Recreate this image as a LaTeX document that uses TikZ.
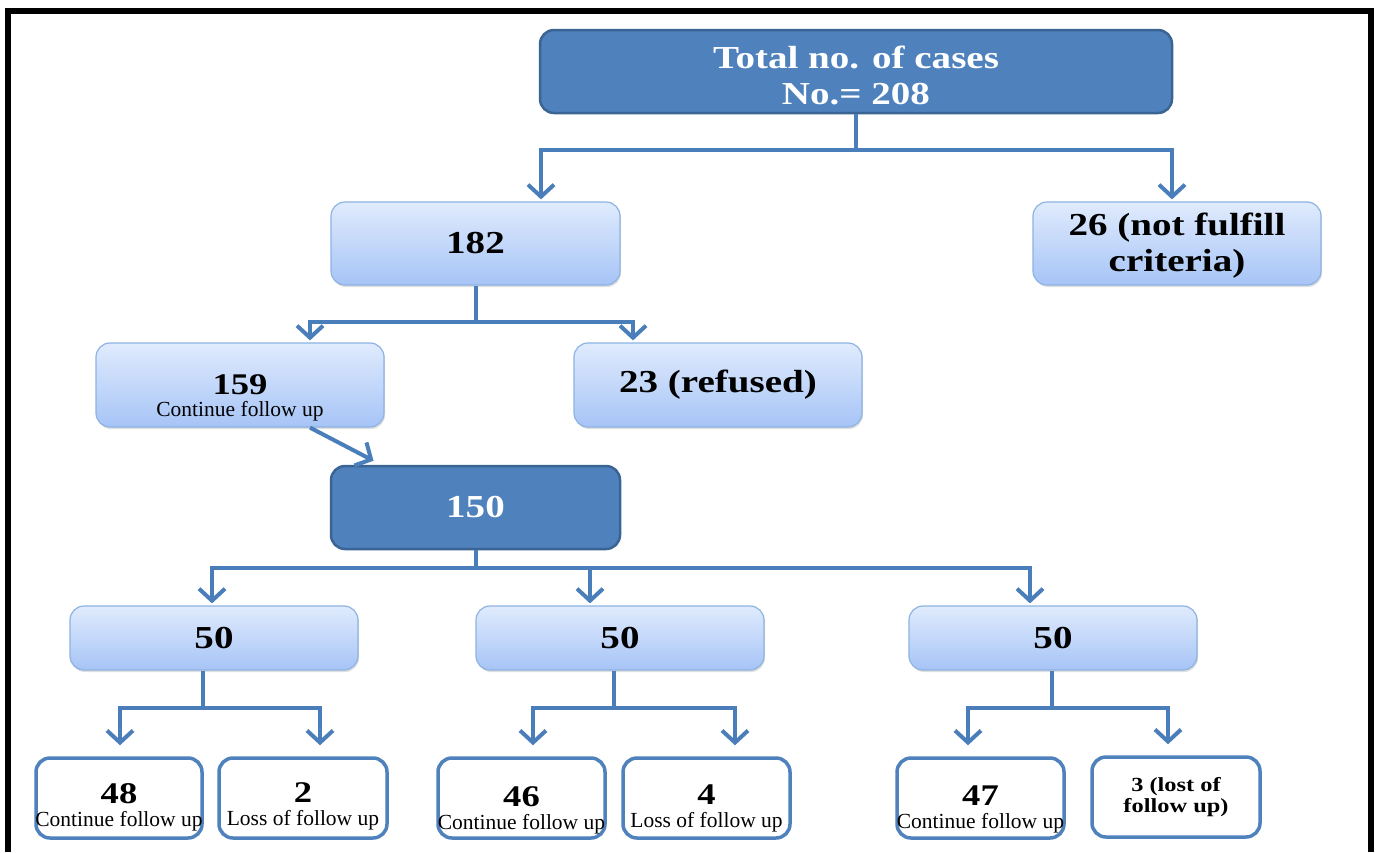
\documentclass[tikz,border=0pt]{standalone}
\usepackage{fontspec}
\setmainfont{Liberation Serif}
\newfontfamily\wbf{Liberation Serif}[FakeStretch=1.22]
\usetikzlibrary{arrows.meta,shadows}
\definecolor{lnblue}{HTML}{4A7EBB}
\definecolor{dkfill}{HTML}{4F81BD}
\definecolor{dkdraw}{HTML}{3A6494}
\definecolor{ltop}{HTML}{E0EBFD}
\definecolor{lbot}{HTML}{A6C4F6}
\definecolor{ldraw}{HTML}{8DB3E2}
\begin{document}
\begin{tikzpicture}[x=1pt,y=-1pt,
  ln/.style={draw=lnblue,line width=4pt},
  arr/.style={ln,-{Straight Barb[length=12pt,width=26pt]},shorten >=2pt},
  darkbox/.style={draw=dkdraw,line width=2.5pt,fill=dkfill,rounded corners=14pt,
    text=white,font=\wbf\bfseries\fontsize{32}{35}\selectfont,align=center,inner sep=0pt},
  lightbox/.style={draw=ldraw,line width=1.2pt,top color=ltop,bottom color=lbot,rounded corners=14pt,
    drop shadow={shadow xshift=1pt,shadow yshift=-2pt,opacity=0.25},
    font=\wbf\bfseries\fontsize{32}{36}\selectfont,align=center,inner sep=0pt},
  whitebox/.style={draw=dkfill,line width=3.5pt,fill=white,rounded corners=14pt,inner sep=0pt},
  bigtxt/.style={font=\wbf\bfseries\fontsize{32}{36}\selectfont,align=center,inner sep=0pt},
  numtxt/.style={font=\wbf\bfseries\fontsize{30}{30}\selectfont,anchor=base,inner sep=0pt},
  subtxt/.style={font=\fontsize{21.5}{24}\selectfont,anchor=base,inner sep=0pt}
]
\useasboundingbox (0,0) rectangle (1376,852);
\fill[white] (0,0) rectangle (1376,852);
\draw[black,line width=6pt,line join=miter] (8,852) -- (8,11) -- (1370.5,11) -- (1370.5,852);

% boxes
\node[darkbox,minimum width=632pt,minimum height=83pt] (top) at (856,71.5) {};
\node[bigtxt,text=white] (ttop) at (856,75) {Total no. of cases\\No.= 208};
\node[lightbox,minimum width=289pt,minimum height=83pt] (b182) at (475.5,243.5) {182};
\node[lightbox,minimum width=288pt,minimum height=83pt] (b26) at (1177,243.5) {};
\node[bigtxt] (t26) at (1177,246) {26 (not fulfill\\criteria)};
\node[lightbox,minimum width=288pt,minimum height=84pt] (b159) at (240,385) {};
\node[lightbox,minimum width=288pt,minimum height=84pt] (b23) at (718,385) {23 (refused)};
\node[darkbox,minimum width=289pt,minimum height=83pt] (b150) at (475.5,507.5) {150};
\node[lightbox,minimum width=288pt,minimum height=64pt] (b50a) at (214,638) {50};
\node[lightbox,minimum width=288pt,minimum height=64pt] (b50b) at (620,638) {50};
\node[lightbox,minimum width=288pt,minimum height=64pt] (b50c) at (1053,638) {50};
\node[whitebox,minimum width=166pt,minimum height=80pt] (b48) at (119,798) {};
\node[whitebox,minimum width=168pt,minimum height=80pt] (b2) at (303,798) {};
\node[whitebox,minimum width=167pt,minimum height=80pt] (b46) at (521.5,798) {};
\node[whitebox,minimum width=167pt,minimum height=80pt] (b4) at (706.5,798) {};
\node[whitebox,minimum width=167pt,minimum height=80pt] (b47) at (980.5,798) {};
\node[whitebox,minimum width=168pt,minimum height=80pt,align=center,
  font=\wbf\bfseries\fontsize{20}{21}\selectfont] (b3) at (1176,797) {3 (lost of\\follow up)};

% texts inside boxes
\node[numtxt] (t159) at (240,394) {159};
\node[subtxt] (s159) at (240,416) {Continue follow up};
\node[numtxt] (t48) at (119,803) {48};
\node[subtxt] (s48) at (119,826) {Continue follow up};
\node[numtxt] (t2) at (303,802) {2};
\node[subtxt] (s2) at (303,825) {Loss of follow up};
\node[numtxt] (t46) at (521.5,806) {46};
\node[subtxt] (s46) at (521.5,829) {Continue follow up};
\node[numtxt] (t4) at (706.5,804) {4};
\node[subtxt] (s4) at (706.5,827) {Loss of follow up};
\node[numtxt] (t47) at (980.5,805) {47};
\node[subtxt] (s47) at (980.5,828) {Continue follow up};

% connectors
\draw[ln] (top.south) -- (top.south |- 0,150) coordinate (j1);
\draw[arr] (j1) -| ([xshift=65.5pt]b182.north);
\draw[arr] (j1) -| ([xshift=-5pt]b26.north);

\draw[ln] (b182.south) -- (b182.south |- 0,322) coordinate (j2);
\draw[arr] (j2) -| ([xshift=70pt]b159.south |- b159.north);
\draw[arr] (j2) -| ([xshift=-85pt]b23.north);

\draw[ln,-{Straight Barb[length=12pt,width=26pt]}] ([xshift=70pt]b159.south) -- ([xshift=-102pt,yshift=4pt]b150.north);

\draw[ln] (b150.south) -- (b150.south |- 0,568) coordinate (j3);
\draw[arr] (j3) -| ([xshift=-2pt]b50a.north);
\draw[arr] (j3) -| ([xshift=-30pt]b50b.north);
\draw[arr] (j3) -| ([xshift=-23pt]b50c.north);

\draw[ln] ([xshift=-11pt]b50a.south) -- ([xshift=-11pt]b50a.south |- 0,708) coordinate (j4);
\draw[arr,shorten >=11pt] (j4) -| ([xshift=1pt]b48.north);
\draw[arr,shorten >=11pt] (j4) -| ([xshift=17pt]b2.north);

\draw[ln] ([xshift=-6pt]b50b.south) -- ([xshift=-6pt]b50b.south |- 0,708) coordinate (j5);
\draw[arr,shorten >=11pt] (j5) -| ([xshift=11.5pt]b46.north);
\draw[arr,shorten >=11pt] (j5) -| ([xshift=28.5pt]b4.north);

\draw[ln] ([xshift=-1pt]b50c.south) -- ([xshift=-1pt]b50c.south |- 0,708) coordinate (j6);
\draw[arr,shorten >=11pt] (j6) -| ([xshift=-12.5pt]b47.north);
\draw[arr,shorten >=11pt] (j6) -| ([xshift=-8pt]b3.north);
\end{tikzpicture}
\end{document}
